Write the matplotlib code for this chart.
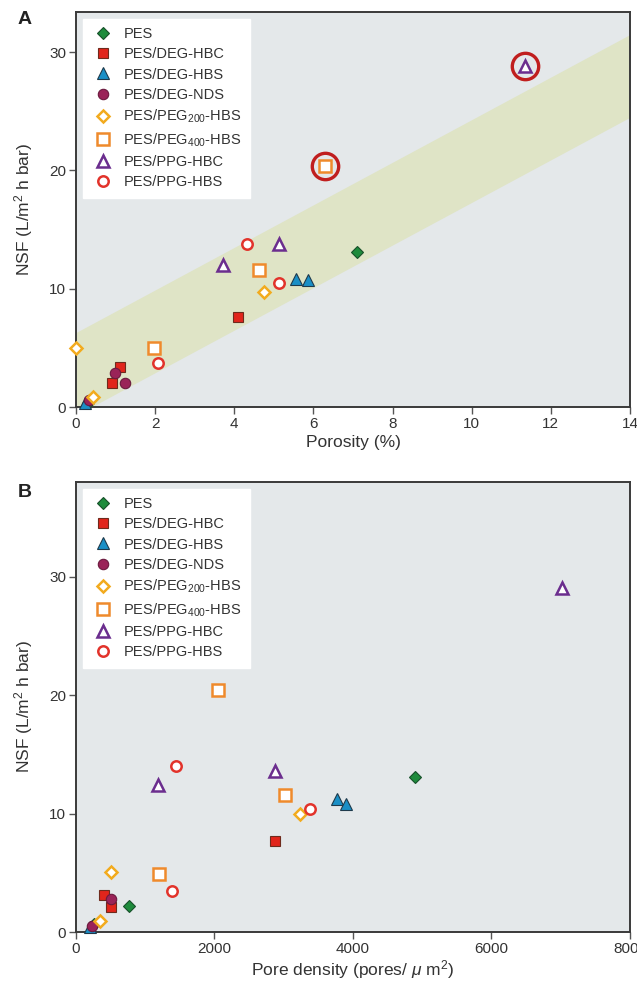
import matplotlib
matplotlib.use("Agg")
import matplotlib.pyplot as plt

plt.rcParams['font.family'] = ['Liberation Sans', 'DejaVu Sans']
plt.rcParams['mathtext.fontset'] = 'custom'
plt.rcParams['mathtext.rm'] = 'Liberation Sans'
plt.rcParams['mathtext.it'] = 'Liberation Sans:italic'
plt.rcParams['mathtext.default'] = 'regular'

# series names
labels = ["PES", "PES/DEG-HBC", "PES/DEG-HBS", "PES/DEG-NDS",
          "PES/PEG$_{200}$-HBS", "PES/PEG$_{400}$-HBS",
          "PES/PPG-HBC", "PES/PPG-HBS"]

# panel A: porosity (%) vs NSF
por_pes = [0.3, 7.1]
nsf_pes_a = [0.35, 13.1]
por_deg_hbc = [0.9, 1.12, 4.1]
nsf_deg_hbc_a = [2.0, 3.4, 7.6]
por_deg_hbs = [0.24, 5.56, 5.86]
nsf_deg_hbs_a = [0.3, 10.8, 10.7]
por_deg_nds = [0.32, 0.98, 1.23]
nsf_deg_nds_a = [0.6, 2.85, 2.0]
por_peg200 = [0.0, 0.43, 4.74]
nsf_peg200_a = [5.0, 0.87, 9.7]
por_peg400 = [1.97, 4.63, 6.28]
nsf_peg400_a = [5.0, 11.6, 20.4]
por_ppg_hbc = [3.72, 5.12, 11.35]
nsf_ppg_hbc_a = [12.0, 13.8, 28.8]
por_ppg_hbs = [2.07, 4.31, 5.12]
nsf_ppg_hbs_a = [3.7, 13.8, 10.45]

# shaded trend band in panel A
band_x = [0, 14]
band_lo = [-0.7, 24.5]
band_hi = [6.3, 31.5]

# circled outliers in panel A
outlier_x = [6.28, 11.35]
outlier_y = [20.4, 28.8]

# panel B: pore density (pores/um2) vs NSF
pd_pes = [257, 767, 4900]
nsf_pes_b = [0.65, 2.2, 13.07]
pd_deg_hbc = [401, 512, 2869]
nsf_deg_hbc_b = [3.1, 2.1, 7.7]
pd_deg_hbs = [199, 3770, 3903]
nsf_deg_hbs_b = [0.45, 11.2, 10.8]
pd_deg_nds = [230, 512]
nsf_deg_nds_b = [0.5, 2.75]
pd_peg200 = [343, 512, 3240]
nsf_peg200_b = [0.93, 5.05, 9.97]
pd_peg400 = [1195, 3023, 2052]
nsf_peg400_b = [4.9, 11.55, 20.46]
pd_ppg_hbc = [1190, 2869, 7015]
nsf_ppg_hbc_b = [12.4, 13.6, 29.05]
pd_ppg_hbs = [1393, 1450, 3384]
nsf_ppg_hbs_b = [3.47, 14.0, 10.37]

styles = [
    dict(marker="D", ms=6, mfc="#1e8b3c", mec="#17502a", mew=0.8),
    dict(marker="s", ms=7.5, mfc="#e1251b", mec="#6e2b1d", mew=0.8),
    dict(marker="^", ms=8.5, mfc="#1a8fc6", mec="#1e3a4c", mew=0.8),
    dict(marker="o", ms=7.5, mfc="#9a2358", mec="#6a1a3e", mew=0.8),
    dict(marker="D", ms=6, mfc="white", mec="#f2ab1e", mew=1.8),
    dict(marker="s", ms=8, mfc="white", mec="#ef8a2c", mew=1.8),
    dict(marker="^", ms=9, mfc="white", mec="#6b2d8e", mew=1.8),
    dict(marker="o", ms=7.5, mfc="white", mec="#e2332b", mew=1.8),
]

data_a = [(por_pes, nsf_pes_a), (por_deg_hbc, nsf_deg_hbc_a),
          (por_deg_hbs, nsf_deg_hbs_a), (por_deg_nds, nsf_deg_nds_a),
          (por_peg200, nsf_peg200_a), (por_peg400, nsf_peg400_a),
          (por_ppg_hbc, nsf_ppg_hbc_a), (por_ppg_hbs, nsf_ppg_hbs_a)]
data_b = [(pd_pes, nsf_pes_b), (pd_deg_hbc, nsf_deg_hbc_b),
          (pd_deg_hbs, nsf_deg_hbs_b), (pd_deg_nds, nsf_deg_nds_b),
          (pd_peg200, nsf_peg200_b), (pd_peg400, nsf_peg400_b),
          (pd_ppg_hbc, nsf_ppg_hbc_b), (pd_ppg_hbs, nsf_ppg_hbs_b)]

bg = "#e4e8ea"
txt = "#333333"

fig = plt.figure(figsize=(6.37, 9.85), dpi=100)
axA = fig.add_axes([0.1193, 0.5868, 0.8697, 0.401])
axB = fig.add_axes([0.1193, 0.0538, 0.8697, 0.4569])


def style_axes(ax):
    ax.set_facecolor(bg)
    for s in ax.spines.values():
        s.set_color("#3a3a3a")
        s.set_linewidth(1.4)
    ax.tick_params(direction="out", length=5, width=1, colors="#555555",
                   labelcolor=txt, labelsize=11, pad=2, top=False, right=False)
    ax.set_ylabel("NSF (L/m$^2$ h bar)", fontsize=12.5, color=txt, labelpad=10)


def draw_legend(ax):
    leg = ax.legend(loc="upper left", frameon=True, fancybox=False,
                    fontsize=10.5, labelspacing=0.42, handletextpad=0.6,
                    borderaxespad=0.45, borderpad=0.6, handlelength=1.6,
                    numpoints=1)
    leg.get_frame().set_facecolor("white")
    leg.get_frame().set_edgecolor("white")
    leg.get_frame().set_alpha(1)
    for t in leg.get_texts():
        t.set_color(txt)
    leg.set_zorder(1)


# Panel A
style_axes(axA)
axA.fill_between(band_x, band_lo, band_hi, color="#dfe4c6", lw=0, zorder=0)
for (x, y), st, lab in zip(data_a, styles, labels):
    axA.plot(x, y, ls="none", label=lab, clip_on=False, zorder=3, **st)
axA.plot(outlier_x, outlier_y, ls="none", marker="o", ms=19, mfc="none",
         mec="#c01e1e", mew=2.4, zorder=4)
axA.set_xlim(0, 14)
axA.set_ylim(0, 33.4)
axA.set_xticks(range(0, 15, 2))
axA.set_yticks([0, 10, 20, 30])
axA.set_xlabel("Porosity (%)", fontsize=12.5, color=txt, labelpad=3)
draw_legend(axA)

# Panel B
style_axes(axB)
for (x, y), st, lab in zip(data_b, styles, labels):
    axB.plot(x, y, ls="none", label=lab, clip_on=False, zorder=3, **st)
axB.set_xlim(0, 8000)
axB.set_ylim(0, 38.0)
axB.set_xticks([0, 2000, 4000, 6000, 8000])
axB.set_yticks([0, 10, 20, 30])
axB.set_xlabel("Pore density (pores/ $\\mathit{\\mu}$ m$^2$)", fontsize=12.5,
               color=txt, labelpad=2)
draw_legend(axB)

fig.text(18 / 637, 1 - 20 / 985, "A", fontsize=14, fontweight="bold",
         va="center", ha="left", color="#222222")
fig.text(18 / 637, 1 - 492 / 985, "B", fontsize=14, fontweight="bold",
         va="center", ha="left", color="#222222")

fig.savefig("out.png", dpi=100)
plt.close(fig)
